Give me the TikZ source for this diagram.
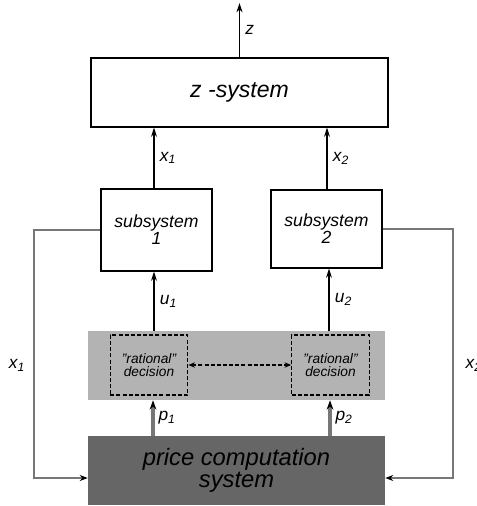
\documentclass[tikz,border=0pt]{standalone}
\usepackage{fontspec}
\setmainfont{Liberation Sans}
\usetikzlibrary{arrows.meta}

\definecolor{panelgray}{RGB}{179,179,179}
\definecolor{pricegray}{RGB}{102,102,102}
\definecolor{linegray}{RGB}{119,119,119}

\newcommand{\varlbl}[2]{{\itshape #1\textsubscript{#2}}}
\newcommand{\tightlines}{\lineskiplimit=-20pt\relax}

\tikzset{
  blk/.style={draw, line width=0.9pt, fill=white, inner sep=0pt, align=center, font=\itshape},
  subbox/.style={blk, minimum width=83.25pt, font=\fontsize{13.2}{12.6}\selectfont\itshape\tightlines},
  decbox/.style={draw, dashed, line width=0.9pt, dash pattern=on 3pt off 1.6pt, inner sep=0pt, align=center,
    minimum width=58pt, minimum height=45pt, font=\fontsize{10.3}{10}\selectfont\itshape},
  sig/.style={line width=0.9pt, -{Stealth[length=7pt,width=4.5pt]}},
  fb/.style={draw=linegray, line width=1.6pt, -{Stealth[length=6pt,width=4.5pt,color=black]}},
  price/.style={draw=linegray, line width=2.3pt, -{Stealth[length=7pt,width=5pt,color=black]}},
  lbl/.style={font=\fontsize{13}{13}\selectfont, inner sep=1pt}
}

\begin{document}
\begin{tikzpicture}[x=0.75pt,y=0.75pt,yscale=-1,xscale=1]
\useasboundingbox (0,0) rectangle (477,506);

% top system
\node[blk, minimum width=222.75pt, minimum height=51.75pt, font=\fontsize{17.3}{17}\selectfont\itshape] (zsys) at (239.5,92.5) {z -system};
\coordinate (zout) at (239.5,3);

% subsystems
\node[subbox, minimum height=61.5pt] (sub1) at (156.5,230) {subsystem\\1};
\node[subbox, minimum height=58.5pt] (sub2) at (326.5,229) {subsystem\\2};

% decision panel
\node[fill=panelgray, inner sep=0pt, minimum width=222.75pt, minimum height=51.75pt] (panel) at (236.5,365.5) {};
\node[decbox] (dec1) at (149,365) {"rational"\\decision};
\node[decbox] (dec2) at (330.5,365) {"rational"\\decision};

% price computation
\node[fill=pricegray, inner sep=0pt, align=center, minimum width=222.75pt, minimum height=51.75pt,
  font=\fontsize{17.8}{16.5}\selectfont\itshape] (pcs) at (236.5,470.5) {price computation\\system};

% feedback corners
\coordinate (fb1) at (34,478);
\coordinate (fb2) at (453,478);

% signals
\draw[sig] (zsys.north) -- node[lbl, right=3pt] {\itshape z} (zout);
\draw[sig] (sub1.north -| 154,0) -- node[lbl, right=3pt] {\varlbl{x}{1}} (zsys.south -| 154,0);
\draw[sig] (sub2.north -| 327,0) -- node[lbl, right=3pt] {\varlbl{x}{2}} (zsys.south -| 327,0);
\draw[sig] (panel.north -| 154,0) -- node[lbl, right=3pt] {\varlbl{u}{1}} (sub1.south -| 154,0);
\draw[sig] (panel.north -| 329,0) -- node[lbl, right=3pt] {\varlbl{u}{2}} (sub2.south -| 329,0);
\draw[price] (pcs.north -| 153,0) -- node[lbl, right=2pt] {\varlbl{p}{1}} (panel.south -| 153,0);
\draw[price] (pcs.north -| 330,0) -- node[lbl, right=2pt] {\varlbl{p}{2}} (panel.south -| 330,0);
\draw[dashed, dash pattern=on 3pt off 1.6pt, line width=0.8pt, {Stealth[length=5pt,width=4pt]}-{Stealth[length=5pt,width=4pt]}] (dec1.east) -- (dec2.west);

% feedback loops
\draw[fb] (sub1.west) -| (fb1) -- (fb1 -| pcs.west);
\draw[fb] (sub2.east) -| (fb2) -- (fb2 -| pcs.east);
\node[lbl] (lx1) at (17,365) {\varlbl{x}{1}};
\node[lbl, anchor=west] (lx2) at (464,365) {\varlbl{x}{2}};
\end{tikzpicture}
\end{document}
